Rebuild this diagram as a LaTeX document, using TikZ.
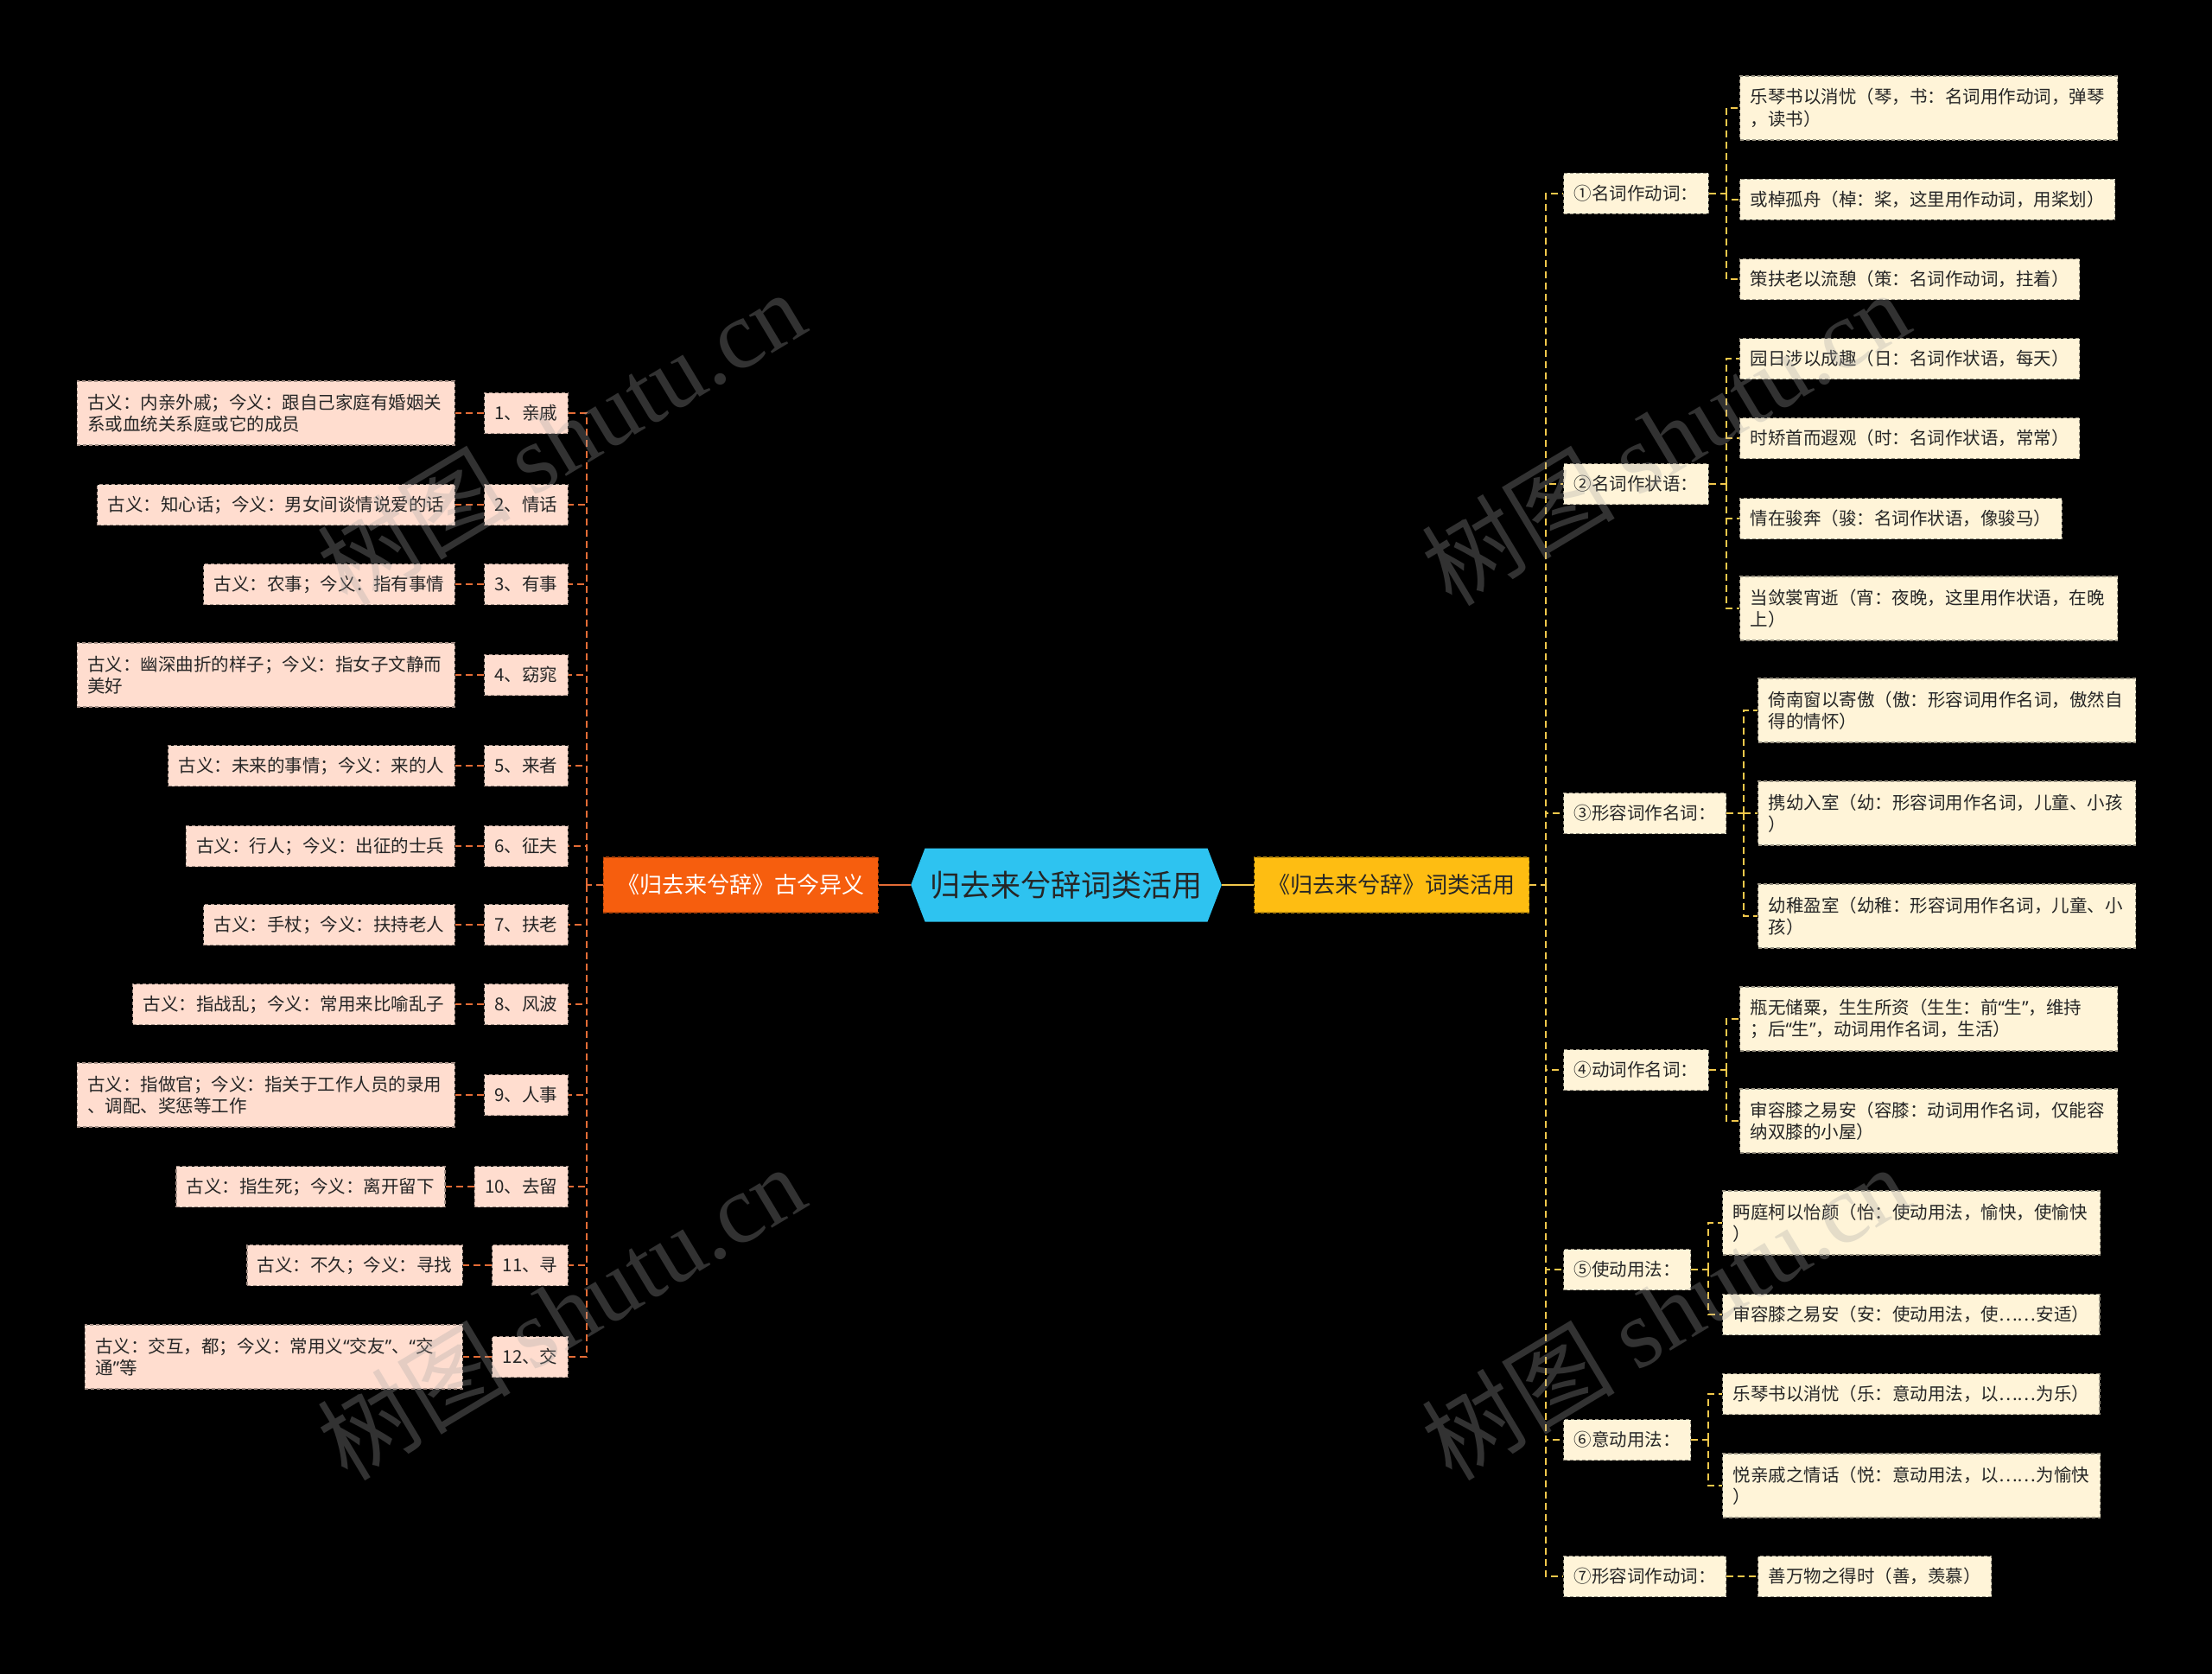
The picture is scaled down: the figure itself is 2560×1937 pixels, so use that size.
\documentclass[tikz,border=0pt]{standalone}
\usepackage{fontspec}
\setmainfont{Noto Sans CJK SC}
\newfontfamily\wmfont{Liberation Serif}
\newfontfamily\latfont{Noto Sans}
\newcommand\qopen{{\latfont “}}
\newcommand\qclose{{\latfont ”}}
\usepackage{tikz}
\usetikzlibrary{positioning,shapes.symbols}
\usepackage{xcolor}
\definecolor{cenblue}{HTML}{2EC3F0}
\definecolor{oldorange}{HTML}{F65E0E}
\definecolor{oldpeach}{HTML}{FFDDCF}
\definecolor{oldwire}{HTML}{E46C36}
\definecolor{useamber}{HTML}{FEBD12}
\definecolor{usecream}{HTML}{FFF4D8}
\definecolor{usewire}{HTML}{F2C84B}
\definecolor{inktext}{HTML}{262626}

\begin{document}
\begin{tikzpicture}[
    x=1pt, y=-1pt,
    centre/.style={signal, signal to=east and west, signal pointer angle=138, fill=cenblue, text=inktext, font=\fontsize{35}{40}\selectfont, minimum height=85pt, inner xsep=6pt},
    branch/.style={rectangle, line width=1.2pt, dash pattern=on 4pt off 3pt, font=\fontsize{26}{30}\selectfont, minimum height=64pt, inner xsep=16pt},
    oldbranch/.style={branch, fill=oldorange, draw=oldorange!70!black, text=white},
    usebranch/.style={branch, fill=useamber, draw=useamber!70!black, text=inktext},
    small/.style={rectangle, line width=1.2pt, dash pattern=on 4pt off 3pt, text=inktext, font=\fontsize{20.5}{25.5}\selectfont, minimum height=47pt, inner xsep=12pt, inner ysep=6pt},
    oldbox/.style={small, fill=oldpeach, draw=oldpeach!65!black},
    oldtwo/.style={oldbox, align=left, text width=413pt, minimum height=74pt},
    usebox/.style={small, fill=usecream, draw=usecream!60!black},
    usetwo/.style={usebox, align=left, text width=413pt, minimum height=74pt},
    oldlink/.style={draw=oldwire, line width=2.2pt, dash pattern=on 8pt off 5pt},
    uselink/.style={draw=usewire, line width=2.2pt, dash pattern=on 8pt off 5pt},
    wmark/.style={text=gray!70, text opacity=0.3, font=\fontsize{112}{120}\selectfont, rotate=31}
  ]
    \useasboundingbox (0,0) rectangle (2560,1937);
    \fill[black] (0,0) rectangle (2560,1937);

    \node[centre] (cen) at (1234,1024) {归去来兮辞词类活用};
    \node[oldbranch, left=37pt of cen] (lb) {《归去来兮辞》古今异义};
    \node[usebranch, right=37pt of cen] (rb) {《归去来兮辞》词类活用};
    \coordinate[left=19pt of lb] (lt);
    \coordinate[right=19pt of rb] (rt);

    \node[oldbox, anchor=east] (q1) at (658,478) {1、亲戚};
    \node[oldbox, anchor=east] (q2) at (658,584) {2、情话};
    \node[oldbox, anchor=east] (q3) at (658,676) {3、有事};
    \node[oldbox, anchor=east] (q4) at (658,781) {4、窈窕};
    \node[oldbox, anchor=east] (q5) at (658,886) {5、来者};
    \node[oldbox, anchor=east] (q6) at (658,979) {6、征夫};
    \node[oldbox, anchor=east] (q7) at (658,1070) {7、扶老};
    \node[oldbox, anchor=east] (q8) at (658,1162) {8、风波};
    \node[oldbox, anchor=east] (q9) at (658,1267) {9、人事};
    \node[oldbox, anchor=east] (q10) at (658,1373) {10、去留};
    \node[oldbox, anchor=east] (q11) at (658,1464) {11、寻};
    \node[oldbox, anchor=east] (q12) at (658,1570) {12、交};

    \node[oldtwo, left=33pt of q1] (d1) {古义：内亲外戚；今义：跟自己家庭有婚姻关\\系或血统关系庭或它的成员};
    \node[oldbox, left=33pt of q2] (d2) {古义：知心话；今义：男女间谈情说爱的话};
    \node[oldbox, left=33pt of q3] (d3) {古义：农事；今义：指有事情};
    \node[oldtwo, left=33pt of q4] (d4) {古义：幽深曲折的样子；今义：指女子文静而\\美好};
    \node[oldbox, left=33pt of q5] (d5) {古义：未来的事情；今义：来的人};
    \node[oldbox, left=33pt of q6] (d6) {古义：行人；今义：出征的士兵};
    \node[oldbox, left=33pt of q7] (d7) {古义：手杖；今义：扶持老人};
    \node[oldbox, left=33pt of q8] (d8) {古义：指战乱；今义：常用来比喻乱子};
    \node[oldtwo, left=33pt of q9] (d9) {古义：指做官；今义：指关于工作人员的录用\\、调配、奖惩等工作};
    \node[oldbox, left=33pt of q10] (d10) {古义：指生死；今义：离开留下};
    \node[oldbox, left=33pt of q11] (d11) {古义：不久；今义：寻找};
    \node[oldtwo, left=33pt of q12] (d12) {古义：交互，都；今义：常用义\qopen 交友\qclose 、\qopen 交\\通\qclose 等};

    \node[usebox, anchor=west] (u1) at (1809,224) {①名词作动词：};
    \node[usebox, anchor=west] (u2) at (1809,560) {②名词作状语：};
    \node[usebox, anchor=west] (u3) at (1809,941) {③形容词作名词：};
    \node[usebox, anchor=west] (u4) at (1809,1238) {④动词作名词：};
    \node[usebox, anchor=west] (u5) at (1809,1469) {⑤使动用法：};
    \node[usebox, anchor=west] (u6) at (1809,1666) {⑥意动用法：};
    \node[usebox, anchor=west] (u7) at (1809,1824) {⑦形容词作动词：};
    \coordinate[right=20pt of u1] (t1);
    \coordinate[right=20pt of u2] (t2);
    \coordinate[right=20pt of u3] (t3);
    \coordinate[right=20pt of u4] (t4);
    \coordinate[right=20pt of u5] (t5);
    \coordinate[right=20pt of u6] (t6);

    \node[usetwo, anchor=west] (u1a) at (2013,125) {乐琴书以消忧（琴，书：名词用作动词，弹琴\\，读书）};
    \node[usebox, anchor=west] (u1b) at (2013,231) {或棹孤舟（棹：桨，这里用作动词，用桨划）};
    \node[usebox, anchor=west] (u1c) at (2013,323) {策扶老以流憩（策：名词作动词，拄着）};
    \node[usebox, anchor=west] (u2a) at (2013,415) {园日涉以成趣（日：名词作状语，每天）};
    \node[usebox, anchor=west] (u2b) at (2013,507) {时矫首而遐观（时：名词作状语，常常）};
    \node[usebox, anchor=west] (u2c) at (2013,600) {情在骏奔（骏：名词作状语，像骏马）};
    \node[usetwo, anchor=west] (u2d) at (2013,704) {当敛裳宵逝（宵：夜晚，这里用作状语，在晚\\上）};
    \node[usetwo, anchor=west] (u3a) at (2034,822) {倚南窗以寄傲（傲：形容词用作名词，傲然自\\得的情怀）};
    \node[usetwo, anchor=west] (u3b) at (2034,941) {携幼入室（幼：形容词用作名词，儿童、小孩\\）};
    \node[usetwo, anchor=west] (u3c) at (2034,1060) {幼稚盈室（幼稚：形容词用作名词，儿童、小\\孩）};
    \node[usetwo, anchor=west] (u4a) at (2013,1179) {瓶无储粟，生生所资（生生：前\qopen 生\qclose ，维持\\；后\qopen 生\qclose ，动词用作名词，生活）};
    \node[usetwo, anchor=west] (u4b) at (2013,1297) {审容膝之易安（容膝：动词用作名词，仅能容\\纳双膝的小屋）};
    \node[usetwo, anchor=west] (u5a) at (1993,1415) {眄庭柯以怡颜（怡：使动用法，愉快，使愉快\\）};
    \node[usebox, anchor=west] (u5b) at (1993,1521) {审容膝之易安（安：使动用法，使……安适）};
    \node[usebox, anchor=west] (u6a) at (1993,1613) {乐琴书以消忧（乐：意动用法，以……为乐）};
    \node[usetwo, anchor=west] (u6b) at (1993,1719) {悦亲戚之情话（悦：意动用法，以……为愉快\\）};
    \node[usebox, anchor=west] (u7a) at (2034,1824) {善万物之得时（善，羡慕）};

    \draw[oldlink, solid] (cen) -- (lb);
    \draw[uselink, solid] (cen) -- (rb);
    \draw[oldlink] (lb) -- (lt);
    \draw[uselink] (rb) -- (rt);

    \draw[oldlink] (lt) |- (q1.east);
    \draw[oldlink] (lt) |- (q2.east);
    \draw[oldlink] (lt) |- (q3.east);
    \draw[oldlink] (lt) |- (q4.east);
    \draw[oldlink] (lt) |- (q5.east);
    \draw[oldlink] (lt) |- (q6.east);
    \draw[oldlink] (lt) |- (q7.east);
    \draw[oldlink] (lt) |- (q8.east);
    \draw[oldlink] (lt) |- (q9.east);
    \draw[oldlink] (lt) |- (q10.east);
    \draw[oldlink] (lt) |- (q11.east);
    \draw[oldlink] (lt) |- (q12.east);
    \draw[oldlink] (q1) -- (d1);
    \draw[oldlink] (q2) -- (d2);
    \draw[oldlink] (q3) -- (d3);
    \draw[oldlink] (q4) -- (d4);
    \draw[oldlink] (q5) -- (d5);
    \draw[oldlink] (q6) -- (d6);
    \draw[oldlink] (q7) -- (d7);
    \draw[oldlink] (q8) -- (d8);
    \draw[oldlink] (q9) -- (d9);
    \draw[oldlink] (q10) -- (d10);
    \draw[oldlink] (q11) -- (d11);
    \draw[oldlink] (q12) -- (d12);

    \draw[uselink] (rt) |- (u1.west);
    \draw[uselink] (rt) |- (u2.west);
    \draw[uselink] (rt) |- (u3.west);
    \draw[uselink] (rt) |- (u4.west);
    \draw[uselink] (rt) |- (u5.west);
    \draw[uselink] (rt) |- (u6.west);
    \draw[uselink] (rt) |- (u7.west);
    \draw[uselink] (u1) -- (t1);
    \draw[uselink] (u2) -- (t2);
    \draw[uselink] (u3) -- (t3);
    \draw[uselink] (u4) -- (t4);
    \draw[uselink] (u5) -- (t5);
    \draw[uselink] (u6) -- (t6);
    \draw[uselink] (t1) |- (u1a.west);
    \draw[uselink] (t1) |- (u1b.west);
    \draw[uselink] (t1) |- (u1c.west);
    \draw[uselink] (t2) |- (u2a.west);
    \draw[uselink] (t2) |- (u2b.west);
    \draw[uselink] (t2) |- (u2c.west);
    \draw[uselink] (t2) |- (u2d.west);
    \draw[uselink] (t3) |- (u3a.west);
    \draw[uselink] (t3) |- (u3b.west);
    \draw[uselink] (t3) |- (u3c.west);
    \draw[uselink] (t4) |- (u4a.west);
    \draw[uselink] (t4) |- (u4b.west);
    \draw[uselink] (t5) |- (u5a.west);
    \draw[uselink] (t5) |- (u5b.west);
    \draw[uselink] (t6) |- (u6a.west);
    \draw[uselink] (t6) |- (u6b.west);
    \draw[uselink] (u7) -- (u7a);

    \node[wmark] (wm1) at (649,506) {树图 {\wmfont shutu.cn}};
    \node[wmark] (wm2) at (649,1518) {树图 {\wmfont shutu.cn}};
    \node[wmark] (wm3) at (1927,506) {树图 {\wmfont shutu.cn}};
    \node[wmark] (wm4) at (1927,1518) {树图 {\wmfont shutu.cn}};
  \end{tikzpicture}
\end{document}
